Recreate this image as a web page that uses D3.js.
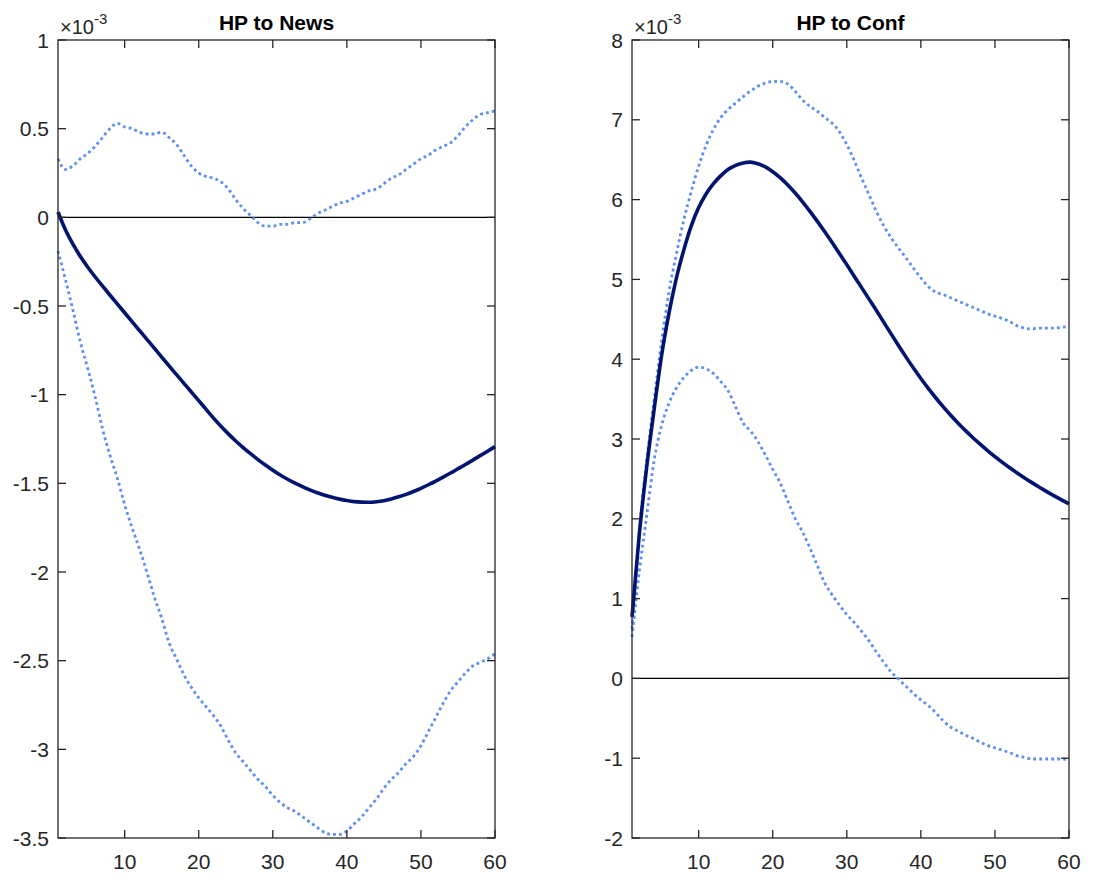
<!DOCTYPE html>
<html>
<head>
<meta charset="utf-8">
<script src="https://cdn.jsdelivr.net/npm/d3@7"></script>
<style>
  body { margin: 0; background: #fff; }
  svg { display: block; font-family: "Liberation Sans", Arial, sans-serif; }
</style>
</head>
<body>
<div id="graf"></div>
<script>
// horizons 1..60
const horizon = d3.range(1, 61);

// HP to News (x 1e-3)
const newsMedian = [0.03,-0.07,-0.15,-0.22,-0.28,-0.335,-0.387,-0.438,-0.488,-0.538,
  -0.588,-0.638,-0.688,-0.738,-0.788,-0.838,-0.887,-0.936,-0.985,-1.034,
  -1.083,-1.132,-1.178,-1.221,-1.261,-1.298,-1.333,-1.366,-1.397,-1.426,
  -1.453,-1.477,-1.499,-1.519,-1.537,-1.553,-1.567,-1.579,-1.589,-1.597,
  -1.603,-1.606,-1.607,-1.604,-1.598,-1.588,-1.576,-1.562,-1.546,-1.528,
  -1.508,-1.487,-1.465,-1.442,-1.418,-1.394,-1.369,-1.344,-1.319,-1.293];
const newsUpper = [0.33,0.27,0.29,0.33,0.36,0.40,0.45,0.50,0.53,0.51,
  0.50,0.48,0.47,0.47,0.48,0.45,0.41,0.35,0.29,0.25,
  0.23,0.22,0.20,0.16,0.10,0.05,0.01,-0.03,-0.05,-0.05,
  -0.04,-0.04,-0.03,-0.03,-0.01,0.02,0.04,0.06,0.08,0.09,
  0.11,0.13,0.15,0.16,0.19,0.22,0.24,0.27,0.30,0.33,
  0.35,0.38,0.40,0.42,0.46,0.51,0.55,0.58,0.59,0.60];
const newsLower = [-0.19,-0.35,-0.52,-0.70,-0.85,-1.01,-1.19,-1.34,-1.47,-1.62,
  -1.75,-1.87,-2.00,-2.14,-2.26,-2.40,-2.49,-2.58,-2.65,-2.71,
  -2.76,-2.81,-2.87,-2.95,-3.02,-3.07,-3.12,-3.17,-3.21,-3.26,
  -3.30,-3.33,-3.35,-3.38,-3.41,-3.44,-3.47,-3.48,-3.48,-3.46,
  -3.42,-3.38,-3.33,-3.28,-3.22,-3.17,-3.13,-3.08,-3.04,-2.98,
  -2.90,-2.82,-2.74,-2.67,-2.62,-2.57,-2.53,-2.51,-2.49,-2.46];

// HP to Conf (x 1e-3)
const confMedian = [0.77,1.82,2.66,3.38,4.05,4.58,5.02,5.37,5.67,5.90,
  6.07,6.20,6.30,6.38,6.43,6.46,6.47,6.45,6.41,6.35,
  6.275,6.185,6.085,5.975,5.855,5.73,5.60,5.465,5.325,5.185,
  5.04,4.897,4.753,4.61,4.462,4.314,4.168,4.026,3.889,3.758,
  3.634,3.517,3.406,3.301,3.202,3.108,3.019,2.935,2.855,2.779,
  2.707,2.639,2.574,2.512,2.453,2.396,2.341,2.288,2.237,2.188];
const confUpper = [0.62,1.85,2.75,3.50,4.23,4.85,5.32,5.75,6.10,6.42,
  6.68,6.88,7.03,7.13,7.21,7.29,7.36,7.42,7.46,7.48,
  7.48,7.45,7.36,7.25,7.17,7.11,7.03,6.96,6.85,6.69,
  6.49,6.27,6.06,5.85,5.67,5.52,5.39,5.27,5.14,5.02,
  4.91,4.84,4.81,4.77,4.73,4.69,4.65,4.61,4.57,4.54,
  4.51,4.47,4.42,4.39,4.38,4.39,4.39,4.39,4.40,4.41];
const confLower = [0.52,1.35,2.05,2.74,3.17,3.45,3.64,3.77,3.86,3.90,
  3.88,3.82,3.72,3.60,3.40,3.20,3.10,2.97,2.80,2.62,
  2.45,2.23,2.01,1.84,1.64,1.42,1.20,1.05,0.92,0.80,
  0.70,0.59,0.47,0.33,0.20,0.08,-0.01,-0.10,-0.19,-0.27,
  -0.34,-0.43,-0.53,-0.61,-0.66,-0.71,-0.75,-0.80,-0.84,-0.87,
  -0.90,-0.93,-0.97,-0.99,-1.01,-1.01,-1.01,-1.01,-1.01,-1.02];

const xTicks = [10, 20, 30, 40, 50, 60];
const newsTicks = [1, 0.5, 0, -0.5, -1, -1.5, -2, -2.5, -3, -3.5];
const confTicks = [8, 7, 6, 5, 4, 3, 2, 1, 0, -1, -2];

const panels = [
  { title: "HP to News", left: 58, right: 495, domain: [-3.5, 1], ticks: newsTicks,
    median: newsMedian, upper: newsUpper, lower: newsLower },
  { title: "HP to Conf", left: 632, right: 1069, domain: [-2, 8], ticks: confTicks,
    median: confMedian, upper: confUpper, lower: confLower }
];

const width = 1096, height = 878;
const plotTop = 40, plotBottom = 838;
const axisColor = "#262626";
const tickLen = 8;

let svg = d3.select("#graf").append("svg")
  .attr("width", width)
  .attr("height", height)
  .attr("viewBox", [0, 0, width, height]);

panels.forEach(p => {
  const x = d3.scaleLinear().domain([1, 60]).range([p.left, p.right]);
  const y = d3.scaleLinear().domain(p.domain).range([plotBottom, plotTop]);
  const g = svg.append("g");

  const line = vals => d3.line()
    .curve(d3.curveMonotoneX)
    .x((d, i) => x(horizon[i]))
    .y(d => y(d))(vals);

  // zero line
  g.append("line")
    .attr("x1", x(1)).attr("x2", x(60))
    .attr("y1", y(0)).attr("y2", y(0))
    .attr("stroke", "#000").attr("stroke-width", 1.4);

  // bands
  [p.upper, p.lower].forEach(b => {
    g.append("path")
      .attr("d", line(b))
      .attr("fill", "none")
      .attr("stroke", "#5c8ef0")
      .attr("stroke-width", 2.8)
      .attr("stroke-dasharray", "2.8,3.2");
  });

  // median
  g.append("path")
    .attr("d", line(p.median))
    .attr("fill", "none")
    .attr("stroke", "#001470")
    .attr("stroke-width", 3.6)
    .attr("stroke-linejoin", "round");

  // box axes (ticks inward on all sides)
  const ax = svg.append("g")
    .attr("stroke", axisColor).attr("stroke-width", 1.3);
  ax.append("rect")
    .attr("x", p.left).attr("y", plotTop)
    .attr("width", p.right - p.left).attr("height", plotBottom - plotTop)
    .attr("fill", "none");

  xTicks.forEach(t => {
    ax.append("line").attr("x1", x(t)).attr("x2", x(t)).attr("y1", plotBottom).attr("y2", plotBottom - tickLen);
    ax.append("line").attr("x1", x(t)).attr("x2", x(t)).attr("y1", plotTop).attr("y2", plotTop + tickLen);
  });
  p.ticks.forEach(t => {
    ax.append("line").attr("x1", p.left).attr("x2", p.left + tickLen).attr("y1", y(t)).attr("y2", y(t));
    ax.append("line").attr("x1", p.right).attr("x2", p.right - tickLen).attr("y1", y(t)).attr("y2", y(t));
  });

  const labels = svg.append("g")
    .attr("fill", axisColor)
    .style("font-size", "21px");

  labels.selectAll(".xt")
    .data(xTicks)
    .join("text")
    .attr("x", d => x(d))
    .attr("y", plotBottom + 31)
    .attr("text-anchor", "middle")
    .text(d => d);

  labels.selectAll(".yt")
    .data(p.ticks)
    .join("text")
    .attr("x", p.left - 9)
    .attr("y", d => y(d))
    .attr("dy", "0.36em")
    .attr("text-anchor", "end")
    .text(d => String(d));

  // exponent label
  const ex = labels.append("text")
    .attr("x", p.left + 2)
    .attr("y", plotTop - 6)
    .style("font-size", "20px");
  ex.append("tspan").text("×10");
  ex.append("tspan").attr("dy", -10).style("font-size", "15px").text("-3");

  // title
  svg.append("text")
    .attr("x", (p.left + p.right) / 2)
    .attr("y", plotTop - 10)
    .attr("text-anchor", "middle")
    .attr("fill", "#000")
    .style("font-size", "21px")
    .style("font-weight", "bold")
    .text(p.title);
});
</script>
</body>
</html>
